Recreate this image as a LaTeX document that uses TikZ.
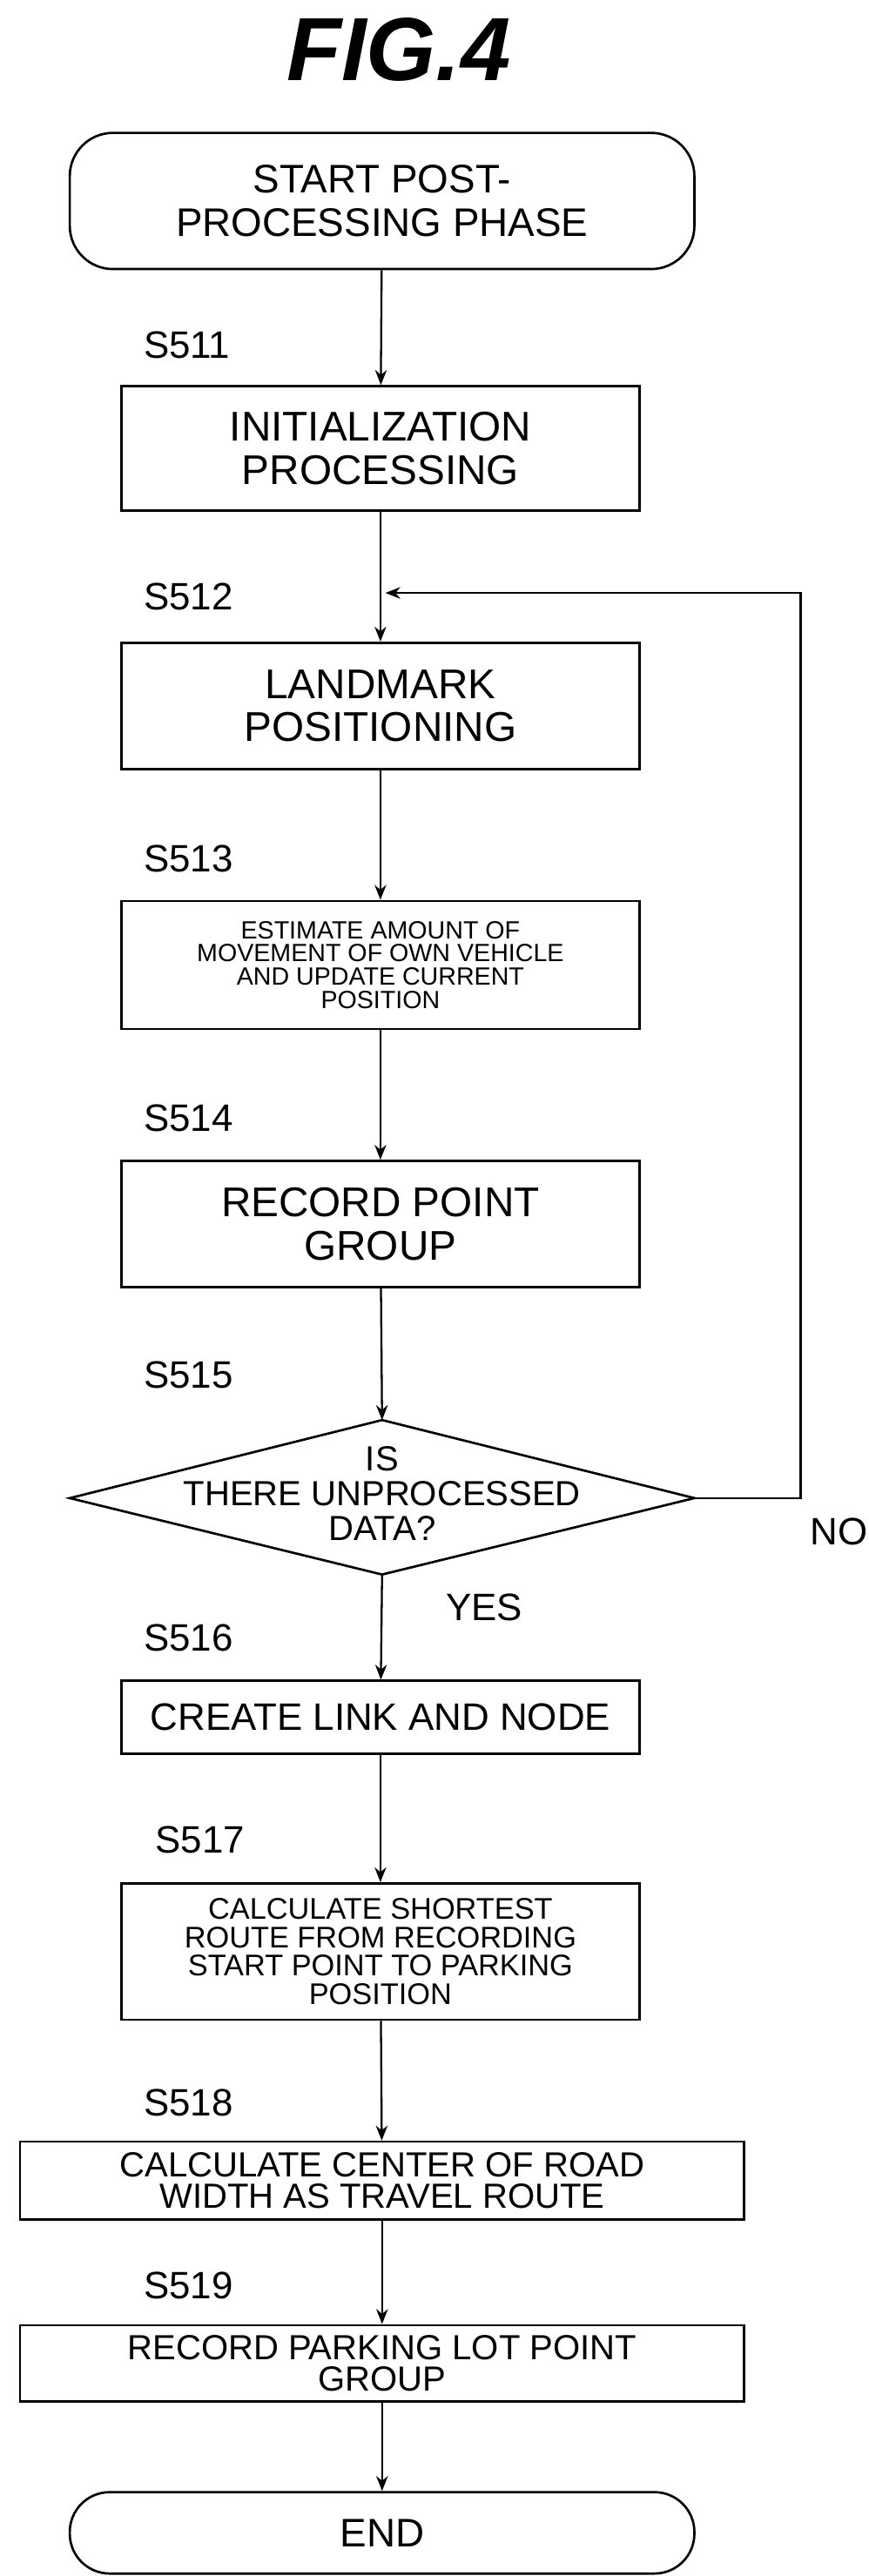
\documentclass[tikz,border=0pt]{standalone}
\usepackage{fontspec}
\setmainfont{Liberation Sans}
\usetikzlibrary{arrows.meta}
\begin{document}
\begin{tikzpicture}[x=1pt,y=-1pt,
  box/.style={draw,line width=1.4pt,minimum width=312pt,inner sep=0pt,align=center,font=\fontsize{25}{26}\selectfont},
  wbox/.style={box,minimum width=436pt,font=\fontsize{21}{19}\selectfont},
  term/.style={draw,line width=1.4pt,rounded corners=26pt,minimum width=376pt,align=center,font=\fontsize{24}{26}\selectfont},
  small/.style={font=\fontsize{15}{14}\selectfont},
  lab/.style={anchor=west,font=\fontsize{23}{24}\selectfont},
  arr/.style={line width=1.2pt,-{Stealth[length=9pt,width=7pt]}},
  ln/.style={line width=1.2pt}]
\useasboundingbox (0,0) rectangle (523,1551);
\node (title) at (240,30) {\fontsize{54}{56}\selectfont\bfseries\itshape FIG.4};
\node[term,minimum height=82pt] (st) at (230,121) {START POST-\\PROCESSING PHASE};
\node[lab] (l1) at (83,208) {S511};
\node[box,minimum height=75pt] (b1) at (229,270) {INITIALIZATION\\PROCESSING};
\node[lab] (l2) at (83,359) {S512};
\node[box,minimum height=76pt] (b2) at (229,425) {LANDMARK\\POSITIONING};
\node[lab] (l3) at (83,517) {S513};
\node[box,minimum height=77pt,small] (b3) at (229,581) {ESTIMATE AMOUNT OF\\MOVEMENT OF OWN VEHICLE\\AND UPDATE CURRENT\\POSITION};
\node[lab] (l4) at (83,673) {S514};
\node[box,minimum height=76pt] (b4) at (229,737) {RECORD POINT\\GROUP};
\node[lab] (l5) at (83,828) {S515};
\coordinate (dn) at (230,855);
\coordinate (de) at (418,902);
\coordinate (ds) at (230,948);
\coordinate (dw) at (42,902);
\draw[line width=1.4pt] (dn) -- (de) -- (ds) -- (dw) -- cycle;
\node[align=center,font=\fontsize{21}{21}\selectfont] (dt) at (230,899) {IS\\THERE UNPROCESSED\\DATA?};
\node[font=\fontsize{23}{24}\selectfont] (no) at (505,922) {NO};
\node[lab] (yes) at (265,968) {YES};
\node[lab] (l6) at (83,986) {S516};
\node[box,minimum height=44pt,font=\fontsize{23}{24}\selectfont] (b5) at (229,1034) {CREATE LINK AND NODE};
\node[lab] (l7) at (90,1108) {S517};
\node[box,minimum height=82pt,font=\fontsize{18}{17}\selectfont] (b6) at (229,1175) {CALCULATE SHORTEST\\ROUTE FROM RECORDING\\START POINT TO PARKING\\POSITION};
\node[lab] (l8) at (83,1266) {S518};
\node[wbox,minimum height=47pt] (b7) at (230,1313) {CALCULATE CENTER OF ROAD\\WIDTH AS TRAVEL ROUTE};
\node[lab] (l9) at (83,1376) {S519};
\node[wbox,minimum height=46pt] (b8) at (230,1423) {RECORD PARKING LOT POINT\\GROUP};
\node[term,minimum height=49pt,rounded corners=24pt] (en) at (230,1525) {END};
\coordinate (c1) at (482,902);
\coordinate (c2) at (482,357);
\coordinate (c3) at (232,357);
\draw[arr] (st) -- (b1);
\draw[arr] (b1) -- (b2);
\draw[arr] (b2) -- (b3);
\draw[arr] (b3) -- (b4);
\draw[arr] (b4) -- (dn);
\draw[arr] (ds) -- (b5);
\draw[arr] (b5) -- (b6);
\draw[arr] (b6) -- (b7);
\draw[arr] (b7) -- (b8);
\draw[arr] (b8) -- (en);
\draw[arr] (de) -- (c1) -- (c2) -- (c3);
\end{tikzpicture}
\end{document}
